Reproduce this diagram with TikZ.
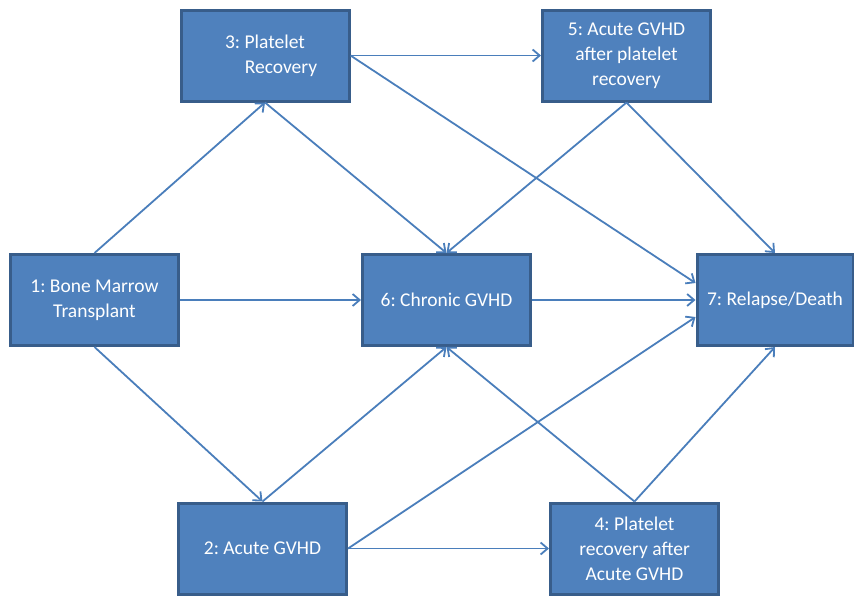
\documentclass[tikz,border=0pt]{standalone}
\usepackage{fontspec}
\setmainfont{Carlito}
\frenchspacing
\usetikzlibrary{arrows.meta}
\definecolor{boxfill}{HTML}{4F81BD}
\definecolor{boxline}{HTML}{385D8A}
\definecolor{arrowc}{HTML}{4A7EBB}
\begin{document}
\begin{tikzpicture}[x=1pt,y=-1pt,
  statebox/.style={draw=boxline,fill=boxfill,line width=3pt,minimum width=168pt,minimum height=91pt,
    text=white,align=center,font=\fontsize{19.5pt}{25pt}\selectfont,inner sep=0pt},
  link/.style={draw=arrowc,line width=1.8pt,-{Straight Barb[length=7pt,width=12pt]}}]
\useasboundingbox (0,0) rectangle (854,597);
\node[statebox] (b3) at (265,55.5) {3: Platelet\\\hspace*{32pt}Recovery};
\node[statebox] (b5) at (626.5,55.5) {5: Acute GVHD\\after platelet\\recovery};
\node[statebox] (b1) at (94.5,300) {1: Bone Marrow\\Transplant};
\node[statebox] (b6) at (446.5,300) {6: Chronic GVHD};
\node[statebox,minimum width=156pt] (b7) at (775,300) {7: Relapse/Death};
\node[statebox] (b2) at (262.5,548.5) {2: Acute GVHD};
\node[statebox] (b4) at (634.5,548.5) {4: Platelet\\recovery after\\Acute GVHD};
\draw[link] (b1.north) -- (b3.south);
\draw[link] (b1.east) -- (b6.west);
\draw[link] (b1.south) -- (b2.north);
\draw[link] (b3.east) -- (b5.west);
\draw[link] (b3.south) -- (b6.north);
\draw[link] (b3.east) -- ([yshift=17pt]b7.west);
\draw[link] (b5.south) -- (b6.north);
\draw[link] (b5.south) -- (b7.north);
\draw[link] (b6.east) -- (b7.west);
\draw[link] (b2.north) -- (b6.south);
\draw[link] (b2.east) -- ([yshift=-17pt]b7.west);
\draw[link] (b2.east) -- (b4.west);
\draw[link] (b4.north) -- (b6.south);
\draw[link] (b4.north) -- (b7.south);
\end{tikzpicture}
\end{document}
